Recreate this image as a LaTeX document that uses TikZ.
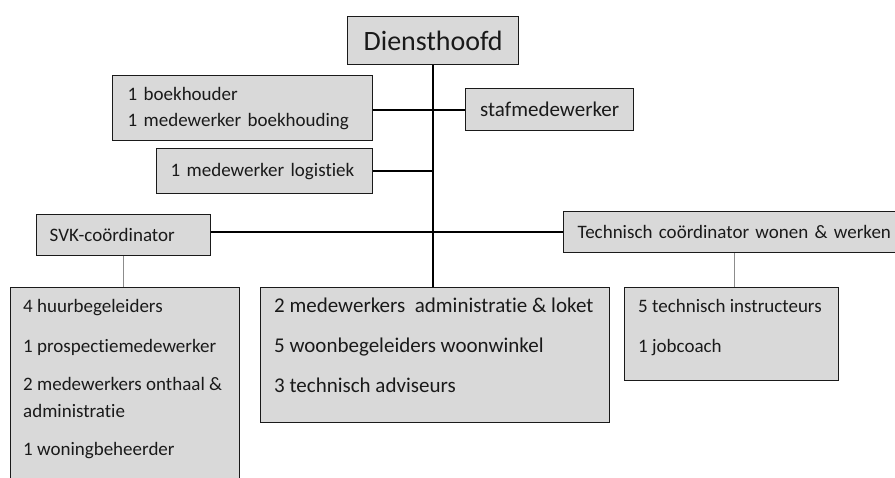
\documentclass[tikz,border=0pt]{standalone}
\usepackage{fontspec}
\setmainfont{Carlito}[Ligatures=NoCommon]
\usepackage{tikz}
\usetikzlibrary{calc,positioning}
\definecolor{boxfill}{HTML}{D9D9D9}
\definecolor{edge}{HTML}{1A1A1A}
\definecolor{thin}{HTML}{8C8C8C}
\tikzset{
  box/.style={draw=edge, fill=boxfill, line width=1.4pt, inner sep=0pt, anchor=north west},
  link/.style={draw=black, line width=2pt},
  sublink/.style={draw=thin, line width=0.9pt},
  lab/.style={text=edge, font=\fontsize{19}{26}\selectfont},
  labl/.style={text=edge, font=\fontsize{21}{26}\selectfont},
  labbig/.style={text=edge, font=\fontsize{28}{32}\selectfont}
}

\begin{document}
\begin{tikzpicture}[x=1pt,y=-1pt]
  \useasboundingbox (0,0) rectangle (895,477);
  \clip (0,0) rectangle (895,477);
  % head and staff
  \node[box, labbig, minimum width=171, minimum height=48] (head) at (347,16) {Diensthoofd};
  \node[box, lab, minimum width=260, minimum height=65, text width=230pt, align=left, inner xsep=15pt] (boek) at (112,75) {1 boekhouder\\1 medewerker boekhouding};
  \node[box, labl, minimum width=168, minimum height=42] (staf) at (465,88) {stafmedewerker};
  \node[box, lab, minimum width=216, minimum height=45, text width=188pt, align=left, inner xsep=14pt] (logi) at (156,148) {1 medewerker logistiek};
  % coordinators
  \node[box, lab, minimum width=174, minimum height=41, text width=148pt, align=left, inner xsep=13pt] (svk) at (36,214) {SVK-coördinator};
  \node[box, lab, minimum width=342, minimum height=41, text width=314pt, align=left, inner xsep=14pt] (tech) at (563,211) {Technisch coördinator wonen \& werken};
  % teams
  \node[box, minimum width=229, minimum height=200] (svkteam) at (10,287) {};
  \node[box, minimum width=349, minimum height=135] (midteam) at (260,287) {};
  \node[box, minimum width=214, minimum height=93] (techteam) at (624,287) {};
  \foreach \txt/\yy [count=\i] in {4 huurbegeleiders/312, 1 prospectiemedewerker/352,
      {2 medewerkers onthaal \&}/390, administratie/417, 1 woningbeheerder/455}
    \node[lab, anchor=base west, inner sep=0pt] (svkline\i) at (23,\yy) {\txt};
  \foreach \txt/\yy [count=\i] in {{2 medewerkers\ \ administratie \& loket}/312,
      5 woonbegeleiders woonwinkel/352, 3 technisch adviseurs/392}
    \node[labl, anchor=base west, inner sep=0pt] (midline\i) at (274,\yy) {\txt};
  \foreach \txt/\yy [count=\i] in {5 technisch instructeurs/312, 1 jobcoach/352}
    \node[lab, anchor=base west, inner sep=0pt] (techline\i) at (638,\yy) {\txt};
  % connectors
  \draw[link] (head.south) -- (head.south |- midteam.north);
  \draw[link] (boek.east |- staf.west) -- (staf.west);
  \draw[link] (logi.east) -- (logi.east -| head.south);
  \draw[link] (svk.east |- tech.west) -- (tech.west);
  \draw[sublink] (svk.south) -- (svk.south |- svkteam.north);
  \draw[sublink] (tech.south) -- (tech.south |- techteam.north);
\end{tikzpicture}
\end{document}
